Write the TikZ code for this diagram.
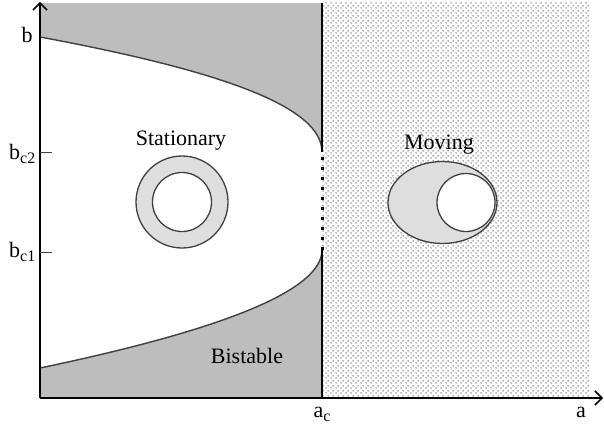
\documentclass[tikz,border=0pt]{standalone}
\usepackage{fontspec}
\setmainfont{Liberation Serif}
\usetikzlibrary{arrows.meta,patterns.meta}
\tikzdeclarepattern{
  name=stipple,
  type=uncolored,
  bounding box={(0pt,0pt) and (5pt,5pt)},
  tile size={(5pt,5pt)},
  code={\fill (1.25pt,1.25pt) circle (1pt); \fill (3.75pt,3.75pt) circle (1pt);}
}
\newcommand{\mysub}[1]{\raisebox{-0.45ex}{\fontsize{16}{16}\selectfont #1}}
\definecolor{regiongray}{gray}{0.74}
\definecolor{lightfill}{gray}{0.87}
\definecolor{edge}{gray}{0.25}
\tikzset{
  lbl/.style={font=\fontsize{22}{24}\selectfont, inner sep=0pt},
  axis/.style={line width=1.5pt, -{Straight Barb[length=7pt,width=14pt,line width=1.5pt]}},
  curve/.style={draw=edge, line width=1.4pt},
  tick/.style={line width=1pt, draw=edge}
}
\begin{document}
\begin{tikzpicture}[x=1pt,y=-1pt]
\useasboundingbox (0,0) rectangle (604,428);
% coordinates
\coordinate (O) at (40,398);
\coordinate (ytip) at (40,2);
\coordinate (xtip) at (603,398);
\coordinate (ac) at (322,398);
\coordinate (actop) at (322,3);
\coordinate (up) at (322,152);
\coordinate (lo) at (322,250);
% gray region
\fill[regiongray] (40,3) rectangle (322,398);
% white region between curves
\fill[white] (40,37) .. controls (228,72) and (322,108) .. (322,152)
  -- (322,250) .. controls (322,289.3) and (228,328.7) .. (40,368) -- cycle;
% stipple region
\fill[white] (322,3) rectangle (590,398);
\fill[pattern=stipple, pattern color=black!45] (322,3) rectangle (590,398);
% curves
\draw[curve] (40,37) .. controls (228,72) and (322,108) .. (up);
\draw[curve] (lo) .. controls (322,289.3) and (228,328.7) .. (40,368);
% vertical boundary
\draw[line width=2pt] (actop) -- (up);
\draw[line width=2pt] (lo) -- (ac);
\draw[line width=3pt, dash pattern=on 3pt off 7pt] (322,157) -- (322,250);
% axes
\draw[axis] (O) -- (ytip);
\draw[axis] (O) -- (xtip);
% ticks
\draw[tick] (40,152) -- (52,152);
\draw[tick] (40,252) -- (52,252);
% axis labels
\node[lbl, anchor=base] (lb) at (27,42) {b};
\node[lbl, anchor=base west] (lbc2) at (9,159) {b\mysub{c2}};
\node[lbl, anchor=base west] (lbc1) at (9,257) {b\mysub{c1}};
\node[lbl, anchor=base] (lac) at (322,417) {a\mysub{c}};
\node[lbl, anchor=base] (la) at (581,417) {a};
% stationary
\node[lbl] (stat) at (181,141) {Stationary};
\draw[draw=edge, line width=1.3pt, fill=lightfill] (182,202) circle (46);
\draw[draw=edge, line width=1.3pt, fill=white] (182,202) circle (29.5);
% moving
\node[lbl] (mov) at (439,145) {Moving};
\draw[draw=edge, line width=1.3pt, fill=lightfill] (442.5,202.5) ellipse (54.5 and 41);
\draw[draw=edge, line width=1.3pt, fill=white] (466,202.5) circle (29);
% bistable
\node[lbl] (bist) at (247,356) {Bistable};
\end{tikzpicture}
\end{document}
